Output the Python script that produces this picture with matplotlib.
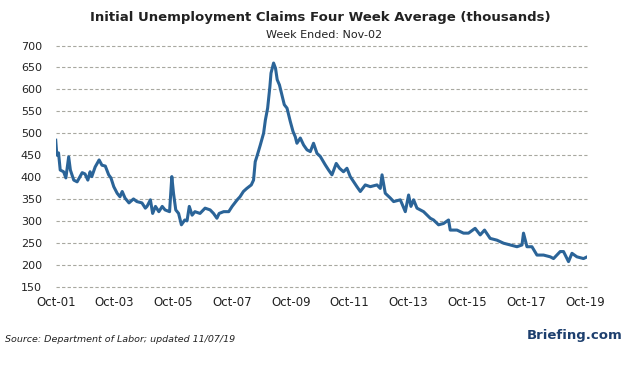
import matplotlib
matplotlib.use("Agg")
import matplotlib.pyplot as plt
import pandas as pd

# Week-ended dates and 4-week average of initial claims (thousands)
dates = [
    "2001-10-06", "2001-10-20", "2001-11-10", "2001-12-01", "2002-01-12", "2002-02-09",
    "2002-03-16", "2002-04-06", "2002-05-18", "2002-06-29", "2002-08-31", "2002-10-05",
    "2002-11-09", "2002-12-07", "2002-12-28", "2003-02-08", "2003-03-29", "2003-05-03",
    "2003-06-14", "2003-07-26", "2003-08-23", "2003-09-27", "2003-11-08", "2003-12-13",
    "2004-01-10", "2004-02-14", "2004-04-03", "2004-05-29", "2004-07-10", "2004-09-11",
    "2004-10-23", "2004-11-13", "2004-12-25", "2005-01-22", "2005-02-26", "2005-04-09",
    "2005-05-21", "2005-06-25", "2005-08-20", "2005-09-17", "2005-10-08", "2005-11-05",
    "2005-12-10", "2006-01-14", "2006-02-25", "2006-03-25", "2006-04-22", "2006-05-27",
    "2006-07-01", "2006-09-02", "2006-11-04", "2007-01-06", "2007-02-17", "2007-03-31",
    "2007-04-28", "2007-06-23", "2007-08-25", "2007-10-06", "2007-12-08", "2008-01-12",
    "2008-02-23", "2008-04-05", "2008-05-31", "2008-06-28", "2008-07-19", "2008-08-09",
    "2008-09-20", "2008-10-31", "2008-11-22", "2008-12-20", "2009-01-17", "2009-01-31",
    "2009-03-04", "2009-03-28", "2009-04-18", "2009-05-16", "2009-06-16", "2009-07-15",
    "2009-08-18", "2009-09-27", "2009-10-31", "2009-11-28", "2009-12-19", "2010-01-30",
    "2010-03-12", "2010-04-23", "2010-06-03", "2010-07-13", "2010-08-25", "2010-10-05",
    "2010-12-05", "2011-01-16", "2011-02-27", "2011-04-21", "2011-06-01", "2011-07-20",
    "2011-09-01", "2011-10-12", "2012-01-03", "2012-02-14", "2012-04-16", "2012-06-17",
    "2012-09-08", "2012-10-19", "2012-11-10", "2012-12-20", "2013-02-21", "2013-04-03",
    "2013-06-25", "2013-08-26", "2013-10-06", "2013-11-04", "2013-12-07", "2014-01-18",
    "2014-04-10", "2014-07-02", "2014-08-12", "2014-10-13", "2014-12-14", "2015-02-14",
    "2015-03-07", "2015-05-30", "2015-08-19", "2015-10-20", "2016-01-10", "2016-03-13",
    "2016-05-06", "2016-07-15", "2016-10-07", "2016-12-29", "2017-03-21", "2017-06-13",
    "2017-08-14", "2017-09-02", "2017-10-15", "2017-12-16", "2018-02-16", "2018-05-09",
    "2018-07-31", "2018-09-10", "2018-12-02", "2019-01-12", "2019-03-15", "2019-04-27",
    "2019-06-27", "2019-09-17", "2019-11-02",
]
claims = [
    484, 450, 455, 416, 412, 398,
    446, 416, 393, 389, 410, 407,
    393, 412, 401, 423, 439, 427,
    425, 405, 398, 378, 363, 355,
    367, 352, 341, 350, 344, 341,
    329, 333, 348, 317, 333, 321,
    333, 325, 321, 401, 363, 325,
    317, 291, 302, 300, 333, 313,
    321, 317, 329, 325, 317, 306,
    317, 321, 321, 333, 348, 355,
    367, 374, 382, 393, 435, 447,
    473, 500, 530, 557, 606, 637,
    660, 648, 622, 610, 587, 565,
    557, 527, 504, 492, 477, 489,
    473, 462, 458, 477, 454, 447,
    428, 416, 405, 431, 420, 412,
    420, 401, 378, 367, 382, 378,
    382, 374, 405, 363, 352, 344,
    348, 321, 359, 333, 348, 329,
    321, 306, 302, 291, 294, 302,
    279, 279, 272, 272, 283, 268,
    279, 260, 256, 249, 245, 241,
    245, 272, 241, 241, 222, 222,
    218, 214, 230, 230, 207, 226,
    218, 214, 218,
]
tick_dates = ["2001-10-06", "2003-10-04", "2005-10-01", "2007-10-06", "2009-10-03",
              "2011-10-01", "2013-10-05", "2015-10-03", "2017-10-07", "2019-10-05"]
tick_labels = ["Oct-01", "Oct-03", "Oct-05", "Oct-07", "Oct-09",
               "Oct-11", "Oct-13", "Oct-15", "Oct-17", "Oct-19"]

x = pd.to_datetime(dates)

fig = plt.figure(figsize=(6.26, 3.67), dpi=100)
ax = fig.add_axes([0.089, 0.219, 0.849, 0.657])

ax.plot(x, claims, color="#2b6498", linewidth=2.2, solid_joinstyle="round")

ax.set_ylim(150, 700)
ax.set_yticks(range(150, 701, 50))
ax.set_xlim(x[0], x[-1])
ax.set_xticks(pd.to_datetime(tick_dates))
ax.set_xticklabels(tick_labels)

ax.grid(axis="y", color="#a8a8a0", linestyle=(0, (3, 2)), linewidth=0.8)
for gl in ax.get_ygridlines():
    gl.set_clip_on(False)
ax.set_axisbelow(True)
for s in ax.spines.values():
    s.set_visible(False)
ax.tick_params(axis="y", length=0, pad=10, labelsize=8, labelcolor="#222222")
ax.tick_params(axis="x", length=0, pad=7, labelsize=8.5, labelcolor="#222222")

fig.text(0.512, 0.952, "Initial Unemployment Claims Four Week Average (thousands)",
         ha="center", va="center", fontsize=9.5, fontweight="bold", color="#222222")
fig.text(0.517, 0.905, "Week Ended: Nov-02", ha="center", va="center",
         fontsize=8, color="#222222")
fig.text(0.008, 0.076, "Source: Department of Labor; updated 11/07/19",
         ha="left", va="center", fontsize=6.8, style="italic", color="#222222")
fig.text(0.995, 0.087, "Briefing.com", ha="right", va="center",
         fontsize=9.5, fontweight="bold", color="#1d3f6e")

fig.savefig("out.png", dpi=100)
